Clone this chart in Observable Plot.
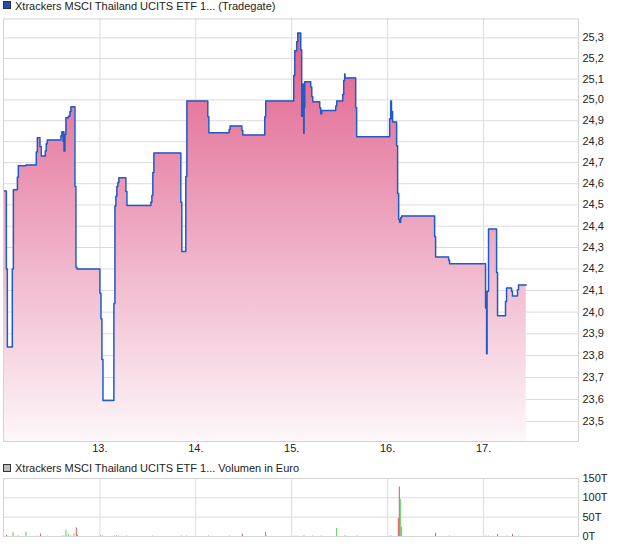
<!DOCTYPE html>
<html><head><meta charset="utf-8">
<script src="https://cdn.jsdelivr.net/npm/d3@7"></script>
<script src="https://cdn.jsdelivr.net/npm/@observablehq/plot@0.6"></script>
<style>
body{margin:0;background:#fff;font-family:"Liberation Sans",Arial,sans-serif;}
#wrap{position:relative;width:620px;height:546px;overflow:hidden;background:#fff;}
.ttl{position:absolute;left:15px;font-size:11px;color:#222;white-space:nowrap;line-height:12px;z-index:5;}
.sq{position:absolute;width:6px;height:6px;border:1px solid #333;z-index:5;}
#main{position:absolute;left:0;top:0;z-index:1;}
#vol{position:absolute;left:0;top:472px;z-index:1;}
</style></head><body>
<div id="wrap">
  <div id="main"></div>
  <div id="vol"></div>
  <div class="sq" style="left:3px;top:1px;background:#1f4fb4"></div>
  <div class="ttl" style="top:0px">Xtrackers MSCI Thailand UCITS ETF 1... (Tradegate)</div>
  <div class="sq" style="left:3px;top:464px;background:#bdbdbd"></div>
  <div class="ttl" style="top:462px">Xtrackers MSCI Thailand UCITS ETF 1... Volumen in Euro</div>
</div>
<script>
// ---- price series (day of month, fractional) ----
const priceTime = [12.000,12.025,12.035,12.087,12.098,12.140,12.150,12.230,12.337,12.348,12.375,12.389,12.431,12.441,12.452,12.594,12.604,12.615,12.620,12.625,12.636,12.646,12.671,12.688,12.698,12.740,12.750,12.761,
13.000,13.011,13.021,13.032,13.146,13.157,13.167,13.177,13.188,13.198,13.271,13.282,13.532,13.542,13.552,13.563,13.844,13.854,13.896,13.907,
14.125,14.136,14.348,14.358,14.480,14.490,14.719,14.729,
15.021,15.032,15.052,15.063,15.094,15.104,15.115,15.125,15.129,15.136,15.198,15.209,15.219,15.292,15.302,15.313,15.459,15.469,15.532,15.542,15.552,15.556,15.667,15.677,
16.021,16.032,16.040,16.046,16.052,16.094,16.104,16.115,16.125,16.136,16.146,16.490,16.500,16.636,16.646,
17.021,17.032,17.037,17.052,17.136,17.146,17.229,17.240,17.292,17.302,17.354,17.365,17.445];
const priceValue = [24.566,24.200,23.840,24.200,24.571,24.631,24.685,24.689,24.751,24.818,24.777,24.732,24.755,24.790,24.808,24.828,24.847,24.802,24.847,24.755,24.834,24.914,24.922,24.944,24.967,24.587,24.208,24.200,
24.087,23.969,23.782,23.595,24.040,24.495,24.541,24.587,24.606,24.628,24.563,24.497,24.513,24.544,24.653,24.746,24.513,24.281,24.634,24.995,
24.919,24.842,24.858,24.875,24.853,24.832,24.919,24.995,
25.117,25.237,25.281,25.324,25.242,24.922,25.077,24.840,24.962,25.087,25.062,25.016,24.991,24.962,24.933,24.949,24.971,24.995,25.026,25.093,25.125,25.106,24.962,24.823,
24.909,24.995,24.909,24.944,24.894,24.780,24.554,24.431,24.419,24.439,24.448,24.351,24.256,24.241,24.224,
24.019,23.808,24.097,24.387,24.183,23.983,24.049,24.112,24.097,24.075,24.103,24.126,24.126];

// ---- volume series (thousand euro) ----
const volTime = [12.028,12.094,12.146,12.229,12.341,12.382,12.452,12.604,12.625,12.646,12.671,12.695,12.729,12.754,12.765,
13.007,13.028,13.153,13.174,13.195,13.278,13.549,13.851,13.903,
14.132,14.351,14.486,14.726,14.733,
15.028,15.059,15.119,15.132,15.219,15.306,15.469,15.552,15.559,15.681,
16.028,16.039,16.111,16.122,16.132,16.143,16.500,16.646,
17.025,17.052,17.146,17.244,17.302,17.365];
const volValue = [3,10,1.5,11,1,6,1,1,1.5,16,5,1.5,7,22,3.5,
1.5,1,1,1.5,1,1,1,1,1,
1,1,6,11,2.5,
1,1,1,1,1,1,21,1,1,1,
1,1,47,128,96,24,8.5,1,
1,1,5,1,5,1];
const volDir = ["d","u","u","u","u","d","u","d","u","u","u","u","n","d","d",
"d","d","u","u","u","d","u","d","u",
"d","u","d","u","n",
"u","u","d","u","d","d","u","u","d","d",
"u","u","d","d","u","u","d","d",
"d","u","d","u","d","u"];

// ---- axis ticks ----
const yTicks = [23.5,23.6,23.7,23.8,23.9,24.0,24.1,24.2,24.3,24.4,24.5,24.6,24.7,24.8,24.9,25.0,25.1,25.2,25.3];
const xTicks = [13,14,15,16,17];
const volTicks = [0,50,100,150];

const price = priceTime.map((t,i)=>({t, v: priceValue[i]}));
const vol = volTime.map((t,i)=>({t, v: volValue[i], d: volDir[i]}));
const yDomain = [23.41, 25.392];
const xDomain = [11.995, 17.99];
const font = '"Liberation Sans", Arial, sans-serif';
const dirColor = {u:"#4fd04f", d:"#e05460", n:"#a8a8a8"};

const gradDefs = (index, scales, values, dims) => {
  const defs = d3.create("svg:defs");
  const g = defs.append("linearGradient").attr("id","pinkGrad")
    .attr("gradientUnits","userSpaceOnUse")
    .attr("x1",0).attr("x2",0)
    .attr("y1",dims.marginTop).attr("y2",dims.height - dims.marginBottom);
  g.append("stop").attr("offset","0%").attr("stop-color","#df5a88");
  g.append("stop").attr("offset","100%").attr("stop-color","#fdf7fa");
  return defs.node();
};

const main = Plot.plot({
  width: 620, height: 460,
  marginLeft: 3, marginRight: 42, marginTop: 18.5, marginBottom: 19,
  style: {fontSize: "11px", fontFamily: font, color: "#222", background: "#fff"},
  x: {domain: xDomain},
  y: {type: "log", domain: yDomain},
  marks: [
    gradDefs,
    Plot.gridY(yTicks, {stroke: "#dcdcdc", strokeOpacity: 1}),
    Plot.gridX(xTicks, {stroke: "#dcdcdc", strokeOpacity: 1}),
    Plot.areaY(price, {x: "t", y1: () => yDomain[0], y2: "v", curve: "step-after", fill: "url(#pinkGrad)"}),
    Plot.line(price, {x: "t", y: "v", curve: "step-after", stroke: "#1f5bc8", strokeWidth: 1.5}),
    Plot.frame({stroke: "#d4d4d4"}),
    Plot.axisY(yTicks, {anchor: "right", tickSize: 0, tickPadding: 4, label: null,
      tickFormat: d => d.toFixed(1).replace(".", ",")}),
    Plot.axisX(xTicks, {anchor: "bottom", tickSize: 0, tickPadding: 3, label: null,
      tickFormat: d => d + "."})
  ]
});
document.getElementById("main").appendChild(main);

const volPlot = Plot.plot({
  width: 620, height: 74,
  marginLeft: 3, marginRight: 42, marginTop: 6, marginBottom: 10,
  style: {fontSize: "11px", fontFamily: font, color: "#222", background: "transparent"},
  x: {domain: xDomain, axis: null},
  y: {domain: [0, 150]},
  marks: [
    Plot.gridY(volTicks, {stroke: "#dcdcdc", strokeOpacity: 1}),
    Plot.gridX(xTicks, {stroke: "#dcdcdc", strokeOpacity: 1}),
    Plot.ruleX(vol, {x: "t", y1: 0, y2: "v", stroke: d => dirColor[d.d], strokeWidth: 1}),
    Plot.frame({stroke: "#d4d4d4"}),
    Plot.axisY(volTicks, {anchor: "right", tickSize: 0, tickPadding: 4, label: null,
      tickFormat: d => d + "T"})
  ]
});
document.getElementById("vol").appendChild(volPlot);
</script>
</body></html>
